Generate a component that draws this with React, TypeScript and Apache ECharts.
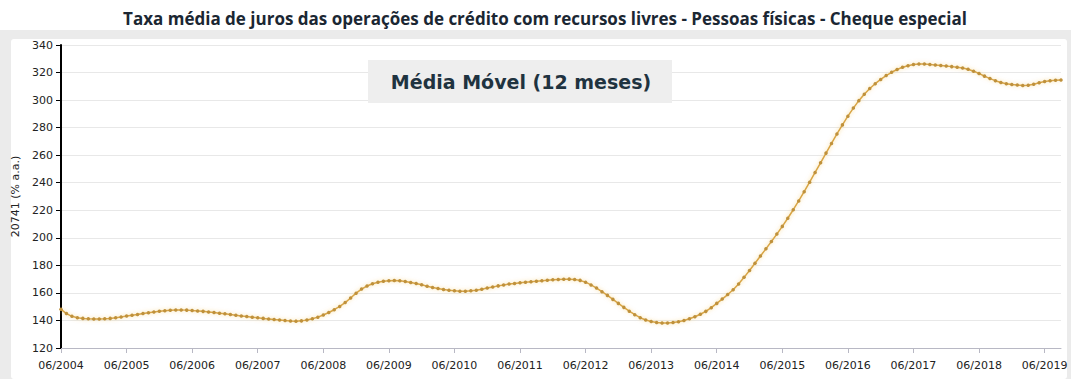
import React, { useEffect, useRef } from "react";
import * as echarts from "echarts";

const TITLE = "Taxa média de juros das operações de crédito com recursos livres - Pessoas físicas - Cheque especial";
const LEGEND_TEXT = "Média Móvel (12 meses)";
const Y_NAME = "20741 (% a.a.)";

const START_YEAR = 2004;
const START_MONTH = 6;

// 06/2004 .. 09/2019, monthly
const values2004 = [148.1, 145.0, 143.0, 142.0, 141.5, 141.2, 141.0, 141.0, 141.2, 141.5, 142.0, 142.5];
const values2005 = [143.2, 143.8, 144.4, 145.0, 145.6, 146.2, 146.7, 147.1, 147.4, 147.6, 147.6, 147.5];
const values2006 = [147.2, 146.9, 146.6, 146.2, 145.8, 145.3, 144.8, 144.3, 143.8, 143.3, 142.8, 142.4];
const values2007 = [141.9, 141.5, 141.1, 140.7, 140.3, 139.9, 139.6, 139.5, 139.7, 140.3, 141.2, 142.4];
const values2008 = [144.0, 145.8, 147.8, 150.2, 153.0, 156.3, 159.8, 162.8, 165.0, 166.6, 167.7, 168.4];
const values2009 = [168.8, 169.0, 168.8, 168.3, 167.6, 166.8, 165.9, 164.9, 164.0, 163.2, 162.5, 162.0];
const values2010 = [161.6, 161.2, 161.2, 161.5, 162.0, 162.7, 163.5, 164.3, 165.1, 165.8, 166.4, 166.9];
const values2011 = [167.3, 167.7, 168.1, 168.5, 168.9, 169.2, 169.5, 169.7, 169.9, 170.0, 169.8, 169.1];
const values2012 = [167.8, 165.8, 163.5, 160.9, 158.2, 155.3, 152.4, 149.5, 146.7, 144.2, 142.0, 140.3];
const values2013 = [139.2, 138.5, 138.2, 138.2, 138.5, 139.1, 140.0, 141.2, 142.7, 144.5, 146.6, 149.3];
const values2014 = [152.4, 155.5, 158.8, 162.3, 166.5, 171.3, 176.3, 181.5, 186.8, 192.0, 197.3, 202.7];
const values2015 = [208.3, 214.2, 220.4, 226.8, 233.5, 240.4, 247.5, 254.5, 261.5, 268.5, 275.4, 282.0];
const values2016 = [288.3, 294.2, 299.6, 304.3, 308.4, 311.9, 315.0, 317.8, 320.2, 322.2, 323.8, 325.0];
const values2017 = [325.8, 326.2, 326.2, 325.9, 325.5, 325.1, 324.7, 324.3, 323.9, 323.3, 322.4, 321.0];
const values2018 = [319.3, 317.4, 315.6, 314.1, 312.8, 311.9, 311.3, 310.9, 310.6, 310.8, 311.5, 312.6];
const values2019 = [313.5, 314.0, 314.4, 314.6];

const seriesValues = [
  ...values2004, ...values2005, ...values2006, ...values2007, ...values2008,
  ...values2009, ...values2010, ...values2011, ...values2012, ...values2013,
  ...values2014, ...values2015, ...values2016, ...values2017, ...values2018,
  ...values2019,
];

const categories: string[] = seriesValues.map((_, i) => {
  const m = START_MONTH - 1 + i;
  const year = START_YEAR + Math.floor(m / 12);
  const month = (m % 12) + 1;
  return (month < 10 ? "0" : "") + month + "/" + year;
});

const Y_MIN = 120;
const Y_MAX = 340;
const Y_STEP = 20;

export default function App() {
  const ref = useRef<HTMLDivElement>(null);
  useEffect(() => {
    if (!ref.current) return;
    const chart = echarts.init(ref.current, null, { renderer: "svg" });
    chart.setOption({
      animation: false,
      backgroundColor: "#ffffff",
      textStyle: { fontFamily: "DejaVu Sans" },
      graphic: [
        { type: "rect", z: -10, shape: { x: 0, y: 30, width: 1071, height: 349 }, style: { fill: "#ebebeb" } },
        { type: "rect", z: -9, shape: { x: 11, y: 39, width: 1056, height: 340, r: 3 }, style: { fill: "#ffffff" } },
        {
          type: "text",
          z: 10,
          x: 545,
          y: 18,
          style: {
            text: TITLE,
            fill: "#1b2733",
            font: "bold 17px 'Open Sans'",
            align: "center",
            verticalAlign: "middle",
          },
        },
        { type: "rect", z: 10, shape: { x: 368, y: 60, width: 304, height: 43 }, style: { fill: "#eeeeee" } },
        {
          type: "text",
          z: 11,
          x: 521,
          y: 82,
          style: {
            text: LEGEND_TEXT,
            fill: "#1f3340",
            font: "bold 19px 'DejaVu Sans'",
            align: "center",
            verticalAlign: "middle",
          },
        },
      ],
      grid: { left: 61, right: 10, top: 45, bottom: 31, containLabel: false },
      xAxis: {
        type: "category",
        data: categories,
        boundaryGap: false,
        axisLine: { lineStyle: { color: "#b8b8c4", width: 1 } },
        axisTick: {
          show: true,
          length: 5,
          interval: (index: number) => index % 12 === 0,
          lineStyle: { color: "#b8b8c4" },
        },
        axisLabel: {
          interval: (index: number) => index % 12 === 0,
          color: "#222222",
          fontSize: 11,
          fontFamily: "DejaVu Sans",
          margin: 12,
          hideOverlap: false,
        },
        splitLine: { show: false },
      },
      yAxis: {
        type: "value",
        min: Y_MIN,
        max: Y_MAX,
        interval: Y_STEP,
        name: Y_NAME,
        nameLocation: "middle",
        nameRotate: 90,
        nameGap: 34,
        nameTextStyle: { color: "#222222", fontSize: 11, fontFamily: "DejaVu Sans" },
        axisLine: { show: true, lineStyle: { color: "#000000", width: 2 } },
        axisTick: { show: true, length: 5, lineStyle: { color: "#000000" } },
        axisLabel: { color: "#222222", fontSize: 11, fontFamily: "DejaVu Sans", margin: 8 },
        splitLine: { show: true, lineStyle: { color: "#e8e8e8", width: 1 } },
      },
      series: [
        {
          type: "line",
          data: seriesValues,
          smooth: false,
          symbol: "circle",
          symbolSize: 3.5,
          showSymbol: true,
          showAllSymbol: true,
          itemStyle: { color: "#bf913c" },
          lineStyle: {
            color: "#d8a444",
            width: 1.5,
            shadowColor: "rgba(245, 205, 110, 0.8)",
            shadowBlur: 4,
          },
        },
      ],
    });
    return () => chart.dispose();
  }, []);
  return (
    <div
      ref={ref}
      style={{ position: "fixed", left: 0, top: 0, width: 1071, height: 379 }}
    />
  );
}
